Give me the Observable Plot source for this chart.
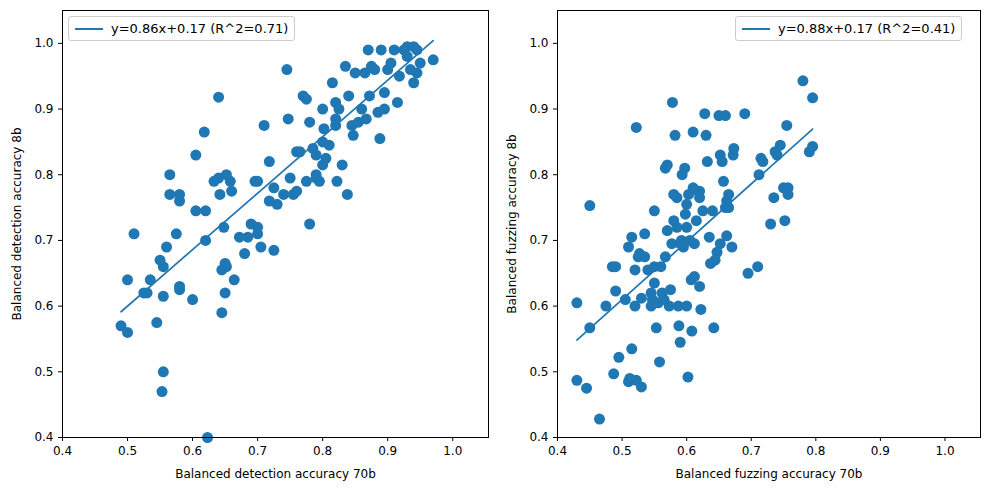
<!DOCTYPE html>
<html><head><meta charset="utf-8">
<script src="https://cdn.jsdelivr.net/npm/d3@7"></script>
<script src="https://cdn.jsdelivr.net/npm/@observablehq/plot@0.6"></script>
<style>
body{margin:0;background:#fff;font-family:"DejaVu Sans",sans-serif}
#wrap{display:flex;position:relative;width:989px;height:490px}
.leg{position:absolute;background:#fff;border:1px solid #ccc;border-radius:3px;font-size:13px;height:25px;display:flex;align-items:center;padding:0 6px;box-sizing:border-box}
.leg span.l{display:inline-block;width:28px;height:2px;background:#1f77b4;margin-right:8px}
</style></head><body>
<div id="wrap"></div>
<script>
const detX=[0.49,0.50,0.50,0.51,0.53,0.525,0.535,0.545,0.55,0.555,0.555,0.555,0.553,0.56,0.565,0.565,0.575,0.58,0.58,0.58,0.58,0.60,0.605,0.605,0.618,0.62,0.62,0.623,0.633,0.64,0.64,0.642,0.645,0.645,0.648,0.65,0.65,0.652,0.652,0.658,0.66,0.664,0.672,0.68,0.685,0.69,0.696,0.70,0.70,0.705,0.71,0.718,0.718,0.725,0.725,0.74,0.745,0.747,0.75,0.755,0.76,0.765,0.77,0.775,0.775,0.78,0.78,0.785,0.79,0.79,0.795,0.80,0.80,0.802,0.805,0.81,0.815,0.82,0.82,0.822,0.825,0.83,0.835,0.838,0.84,0.845,0.847,0.85,0.855,0.86,0.865,0.867,0.87,0.872,0.875,0.88,0.885,0.888,0.89,0.895,0.895,0.90,0.905,0.91,0.915,0.918,0.925,0.93,0.935,0.94,0.94,0.945,0.95,0.97,0.70,0.73,0.79,0.76,0.82,0.80,0.93,0.945];
const detY=[0.57,0.64,0.56,0.71,0.62,0.62,0.64,0.575,0.67,0.66,0.615,0.50,0.47,0.69,0.80,0.77,0.71,0.625,0.63,0.76,0.77,0.61,0.83,0.745,0.865,0.70,0.745,0.40,0.79,0.918,0.795,0.77,0.59,0.655,0.72,0.665,0.62,0.80,0.66,0.79,0.775,0.64,0.705,0.68,0.705,0.725,0.79,0.72,0.71,0.69,0.875,0.82,0.76,0.685,0.78,0.77,0.96,0.885,0.795,0.77,0.835,0.835,0.92,0.915,0.79,0.725,0.88,0.84,0.83,0.795,0.79,0.9,0.815,0.87,0.825,0.845,0.94,0.91,0.885,0.79,0.9,0.815,0.965,0.77,0.92,0.875,0.86,0.955,0.88,0.9,0.955,0.885,0.99,0.92,0.965,0.96,0.895,0.855,0.99,0.925,0.9,0.96,0.97,0.99,0.91,0.95,0.99,0.995,0.96,0.94,0.995,0.99,0.97,0.975,0.79,0.755,0.80,0.775,0.875,0.85,0.98,0.955];
const fuzX=[0.43,0.43,0.445,0.45,0.45,0.465,0.475,0.485,0.487,0.49,0.49,0.495,0.505,0.51,0.51,0.512,0.515,0.515,0.52,0.52,0.522,0.522,0.525,0.527,0.53,0.53,0.535,0.535,0.54,0.545,0.545,0.547,0.55,0.55,0.553,0.556,0.558,0.56,0.562,0.565,0.567,0.567,0.57,0.57,0.573,0.575,0.577,0.578,0.58,0.58,0.582,0.585,0.585,0.587,0.588,0.59,0.592,0.593,0.595,0.597,0.598,0.6,0.6,0.602,0.603,0.605,0.607,0.608,0.61,0.61,0.612,0.612,0.615,0.618,0.62,0.62,0.622,0.625,0.628,0.63,0.632,0.635,0.637,0.64,0.642,0.644,0.647,0.65,0.652,0.652,0.655,0.657,0.66,0.662,0.662,0.665,0.665,0.67,0.672,0.673,0.69,0.695,0.71,0.712,0.715,0.718,0.73,0.735,0.737,0.74,0.745,0.75,0.752,0.755,0.757,0.757,0.78,0.79,0.795,0.795,0.6,0.62,0.55,0.59,0.66];
const fuzY=[0.605,0.487,0.475,0.753,0.567,0.428,0.6,0.66,0.497,0.66,0.623,0.522,0.61,0.69,0.485,0.49,0.705,0.535,0.655,0.6,0.872,0.487,0.675,0.68,0.612,0.477,0.71,0.675,0.655,0.62,0.6,0.61,0.745,0.66,0.567,0.605,0.515,0.66,0.62,0.61,0.675,0.81,0.815,0.715,0.6,0.625,0.695,0.91,0.77,0.73,0.86,0.765,0.72,0.6,0.57,0.545,0.7,0.8,0.69,0.81,0.74,0.72,0.6,0.492,0.77,0.7,0.64,0.562,0.865,0.78,0.695,0.645,0.73,0.775,0.765,0.63,0.595,0.745,0.893,0.86,0.82,0.705,0.665,0.745,0.567,0.67,0.682,0.89,0.695,0.83,0.82,0.79,0.89,0.76,0.707,0.75,0.77,0.69,0.83,0.84,0.893,0.65,0.66,0.8,0.825,0.82,0.725,0.765,0.835,0.83,0.845,0.78,0.73,0.875,0.77,0.78,0.943,0.835,0.917,0.843,0.755,0.775,0.635,0.695,0.75];
const slopes=[0.86,0.88], intercepts=[0.17,0.17];
const legends=["y=0.86x+0.17 (R^2=0.71)","y=0.88x+0.17 (R^2=0.41)"];
const xLabels=["Balanced detection accuracy 70b","Balanced fuzzing accuracy 70b"];
const yLabels=["Balanced detection accuracy 8b","Balanced fuzzing accuracy 8b"];
const ticks=[0.4,0.5,0.6,0.7,0.8,0.9,1.0];
const C="#1f77b4";
const wrap=document.getElementById("wrap");
[[detX,detY],[fuzX,fuzY]].forEach(([X,Y],i)=>{
  const pts=X.map((x,j)=>({x,y:Y[j]}));
  const ext=d3.extent(X);
  const line=ext.map(x=>({x,y:slopes[i]*x+intercepts[i]}));
  const p=Plot.plot({
    width:494,height:490,
    marginLeft:i?63:62,marginRight:i?8:6,marginTop:10,marginBottom:53,
    style:{fontFamily:"DejaVu Sans",fontSize:"12px",color:"#000"},
    x:{domain:[0.4,1.055],ticks,tickFormat:d3.format(".1f"),label:xLabels[i],labelAnchor:"center",labelArrow:false,labelOffset:40,tickSize:4},
    y:{domain:[0.4,1.05],ticks,tickFormat:d3.format(".1f"),label:yLabels[i],labelAnchor:"center",labelArrow:false,labelOffset:50,tickSize:4},
    marks:[
      Plot.dot(pts,{x:"x",y:"y",r:5.5,fill:C,stroke:null}),
      Plot.line(line,{x:"x",y:"y",stroke:C,strokeWidth:1.7}),
      Plot.frame({stroke:"#000"})
    ]});
  p.style.fontSize="12px";
  wrap.appendChild(p);
  const lg=document.createElement("div");
  lg.className="leg";
  lg.style.top="16px";
  lg.style.left=i?"735px":"68px";
  lg.innerHTML='<span class="l"></span>'+legends[i];
  wrap.appendChild(lg);
});
</script></body></html>
